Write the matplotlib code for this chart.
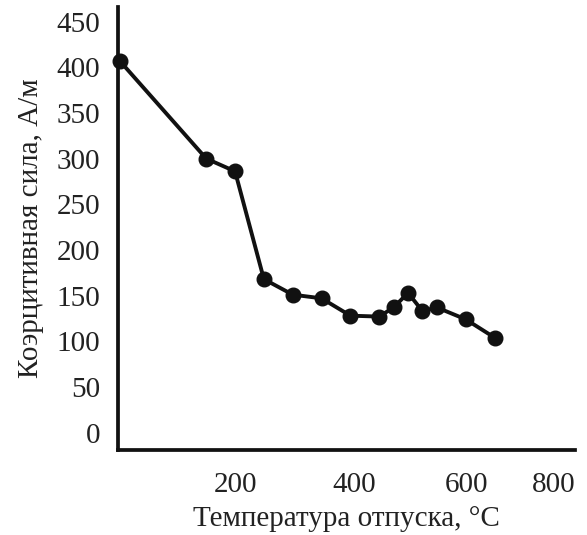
import matplotlib
matplotlib.use('Agg')
import matplotlib.pyplot as plt

temps = [0, 150, 200, 250, 300, 350, 400, 450, 475, 500, 525, 550, 600, 650]
coercive = [407, 300, 286, 168, 151, 147, 128, 127, 137, 153, 133, 137, 124, 104]
y_ticks = [0, 50, 100, 150, 200, 250, 300, 350, 400, 450]
x_tick_pos = [200, 407, 602, 753]
x_tick_labels = ['200', '400', '600', '800']

plt.rcParams['font.family'] = ['Liberation Serif', 'DejaVu Serif']

fig = plt.figure(figsize=(5.87, 5.35), dpi=100)
ax = fig.add_axes([0.201, 0.159, 0.779, 0.828])
ax.plot(temps, coercive, color='#111111', linewidth=2.8, marker='o',
        markersize=10.5, clip_on=False, zorder=3)

ax.set_xlim(-3, 790)
ax.set_ylim(-19, 466)
ax.set_yticks(y_ticks)
ax.set_xticks(x_tick_pos)
ax.set_xticklabels(x_tick_labels)
ax.tick_params(length=0, labelsize=21, colors='#222222')
ax.tick_params(axis='x', pad=16)
ax.tick_params(axis='y', pad=13)

for s in ['top', 'right']:
    ax.spines[s].set_visible(False)
for s in ['left', 'bottom']:
    ax.spines[s].set_linewidth(2.7)
    ax.spines[s].set_color('#111111')

ax.set_xlabel('Температура отпуска, °C', fontsize=21, color='#222222', labelpad=6)
ax.set_ylabel('Коэрцитивная сила, А/м', fontsize=21, color='#222222', labelpad=9)

fig.savefig('out.png', dpi=100)
